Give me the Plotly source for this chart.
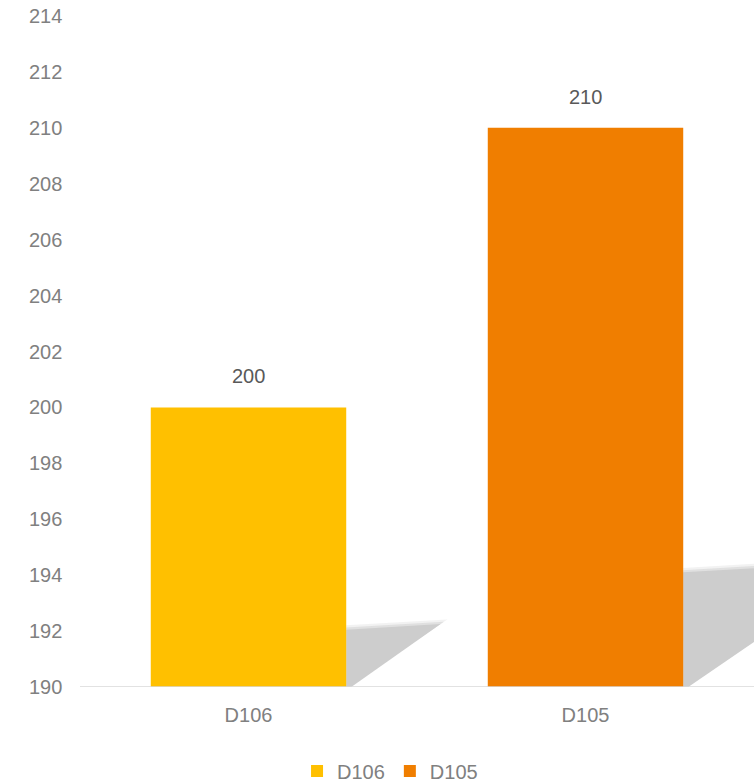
import plotly.graph_objects as go

categories = ["D106", "D105"]
values = [200, 210]
colors = ["#FFC000", "#F07E00"]
y_min, y_max = 190, 214
y_ticks = list(range(190, 215, 2))

FONT = "Liberation Sans"
GREY = "#808080"
BAR_W = 0.58

fig = go.Figure()
for cat, val, col in zip(categories, values, colors):
    fig.add_trace(go.Bar(
        x=[cat], y=[val], name=cat, marker=dict(color=col, line=dict(width=0)),
        width=BAR_W,
    ))

# soft drop shadow to the right of each bar, scaled by bar height
shapes = []
for i, val in enumerate(values):
    h = val - y_min
    x0 = i + BAR_W / 2
    for grow, op in [(0.02, 0.25), (0.01, 0.5), (0.0, 1.0)]:
        top = y_min + 0.225 * h + grow * 8
        right = x0 + 0.028 * h + grow
        path = (f"M {x0},{y_min} L {x0},{top - 0.02 * h} "
                f"L {right},{top} L {x0 + 0.015 - grow},{y_min} Z")
        shapes.append(dict(type="path", path=path, xref="x", yref="y",
                           fillcolor="#CDCDCD", opacity=op, line=dict(width=0),
                           layer="below"))

annotations = []
for cat, val in zip(categories, values):
    annotations.append(dict(x=cat, y=val, text=str(val), showarrow=False,
                            yanchor="bottom", yshift=18,
                            font=dict(family=FONT, size=20, color="#595959")))
# y tick labels, placed on the y axis
for t in y_ticks:
    annotations.append(dict(xref="paper", x=0, y=t, text=str(t), showarrow=False,
                            xanchor="right", yanchor="middle", xshift=-16,
                            font=dict(family=FONT, size=20, color=GREY)))

fig.update_layout(
    width=756, height=783,
    margin=dict(l=80, r=2, t=16, b=96, autoexpand=False),
    barmode="overlay",
    plot_bgcolor="white", paper_bgcolor="white",
    shapes=shapes, annotations=annotations,
    font=dict(family=FONT, size=20, color=GREY),
    showlegend=True,
    legend=dict(orientation="h", x=0.46, xanchor="center", y=-0.125,
                yanchor="middle", font=dict(size=20, color=GREY),
                itemwidth=30, tracegroupgap=0),
    xaxis=dict(range=[-0.5, 1.5], showgrid=False, showline=False, zeroline=False,
               ticks="outside", ticklen=10, tickcolor="rgba(0,0,0,0)",
               automargin=False, tickfont=dict(size=20, color=GREY)),
    yaxis=dict(range=[y_min, y_max], tickvals=y_ticks, showgrid=False,
               zeroline=False, showline=False, automargin=False,
               showticklabels=False),
)
fig.add_shape(type="line", xref="paper", yref="y", x0=0, x1=1, y0=y_min, y1=y_min,
              line=dict(color="#D9D9D9", width=1.5))

fig.write_html("out.html", config={"displayModeBar": False},
               post_script="document.body.style.margin='0';")
